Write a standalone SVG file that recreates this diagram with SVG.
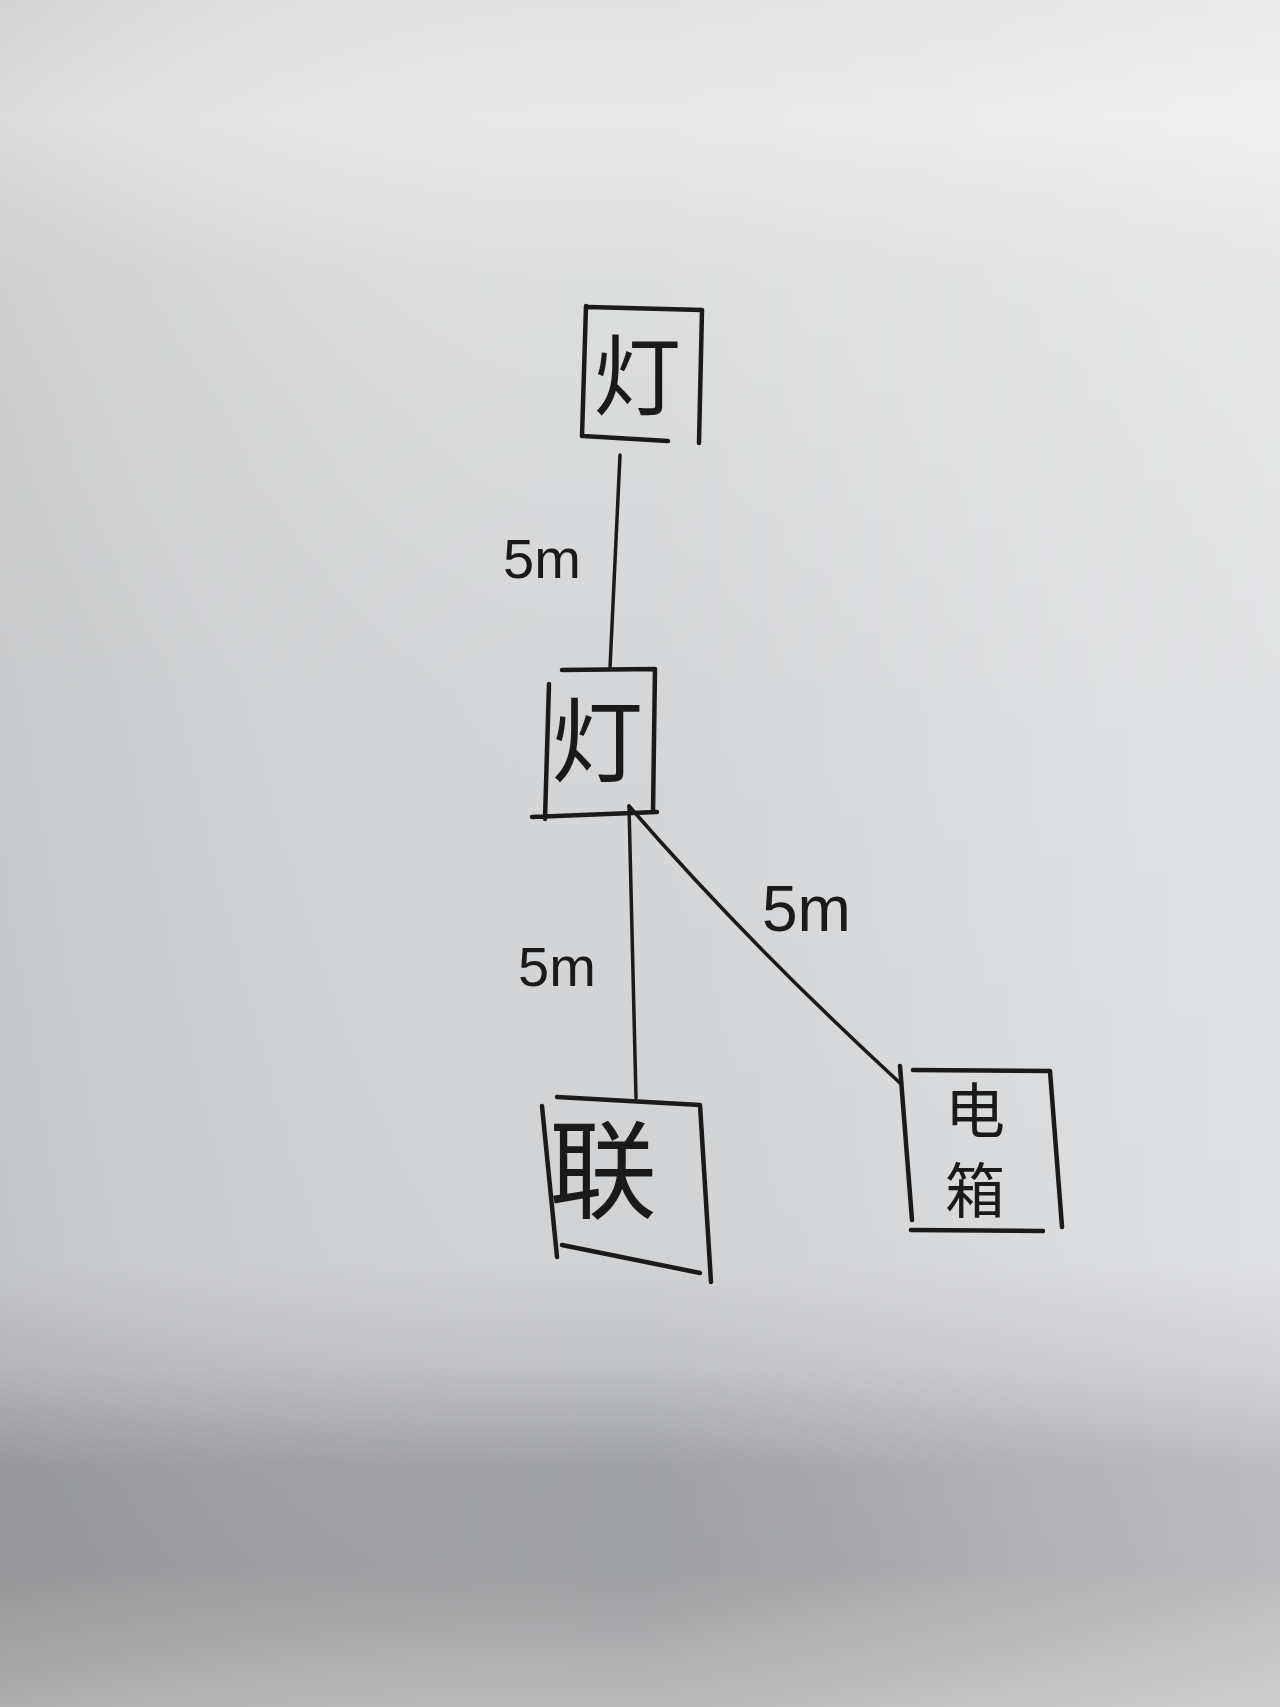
<svg xmlns="http://www.w3.org/2000/svg" width="1280" height="1707" viewBox="0 0 1280 1707">
<defs>
<linearGradient id="bgv" x1="0" y1="0" x2="0" y2="1">
<stop offset="0" stop-color="#e2e2e2"/>
<stop offset="0.07" stop-color="#e9e9e9"/>
<stop offset="0.16" stop-color="#dcdddd"/>
<stop offset="0.4" stop-color="#d4d6d8"/>
<stop offset="0.74" stop-color="#d0d2d4"/>
<stop offset="0.8" stop-color="#c0c1c3"/>
<stop offset="0.86" stop-color="#a0a1a3"/>
<stop offset="0.92" stop-color="#9e9fa1"/>
<stop offset="1" stop-color="#b9b9ba"/>
</linearGradient>
<linearGradient id="bgh" x1="0" y1="0" x2="1" y2="0">
<stop offset="0" stop-color="#000" stop-opacity="0.06"/>
<stop offset="0.5" stop-color="#fff" stop-opacity="0"/>
<stop offset="1" stop-color="#fff" stop-opacity="0.3"/>
</linearGradient>
<style>
.box{fill:none;stroke:#1a1a1a;stroke-width:4.5;stroke-linecap:round;stroke-linejoin:round}
.wire{fill:none;stroke:#1a1a1a;stroke-width:3.5;stroke-linecap:round}
.lbl{font-family:"Liberation Sans","Noto Sans CJK SC",sans-serif;fill:#1a1a1a}
.cjk{font-family:"Noto Sans CJK SC",sans-serif;fill:#1a1a1a;text-anchor:middle}
</style>
</defs>
<rect width="1280" height="1707" fill="url(#bgv)"/>
<rect width="1280" height="1707" fill="url(#bgh)"/>

<g id="connectors">
<path class="wire" d="M620,455 L610,668"/>
<path class="wire" d="M629,806 L636,1098"/>
<path class="wire" d="M629,806 Q745,940 900,1083"/>
<text class="lbl" x="503" y="578" font-size="56">5m</text>
<text class="lbl" x="518" y="986" font-size="56">5m</text>
<text class="lbl" x="762" y="931" font-size="64">5m</text>
</g>

<g id="node-lamp1">
<path class="box" d="M588,307 L702,310 L699,443 M586,306 L582,436 M583,436 L668,441"/>
<text class="cjk" x="637" y="408" font-size="88">灯</text>
</g>

<g id="node-lamp2">
<path class="box" d="M562,670 L655,669 L653,812 M549,684 L545,819 M532,817 L657,812"/>
<text class="cjk" x="597" y="775" font-size="92">灯</text>
</g>

<g id="node-lian">
<path class="box" d="M557,1097 L700,1105 L711,1282 M542,1106 L557,1257 M562,1245 L700,1273"/>
<text class="cjk" x="603" y="1210" font-size="108">联</text>
</g>

<g id="node-box">
<path class="box" d="M913,1070 L1050,1071 L1062,1227 M900,1066 L912,1220 M911,1230 L1043,1231"/>
<text class="cjk" x="975" y="1133" font-size="60">电</text>
<text class="cjk" x="975" y="1213" font-size="60">箱</text>
</g>
</svg>
